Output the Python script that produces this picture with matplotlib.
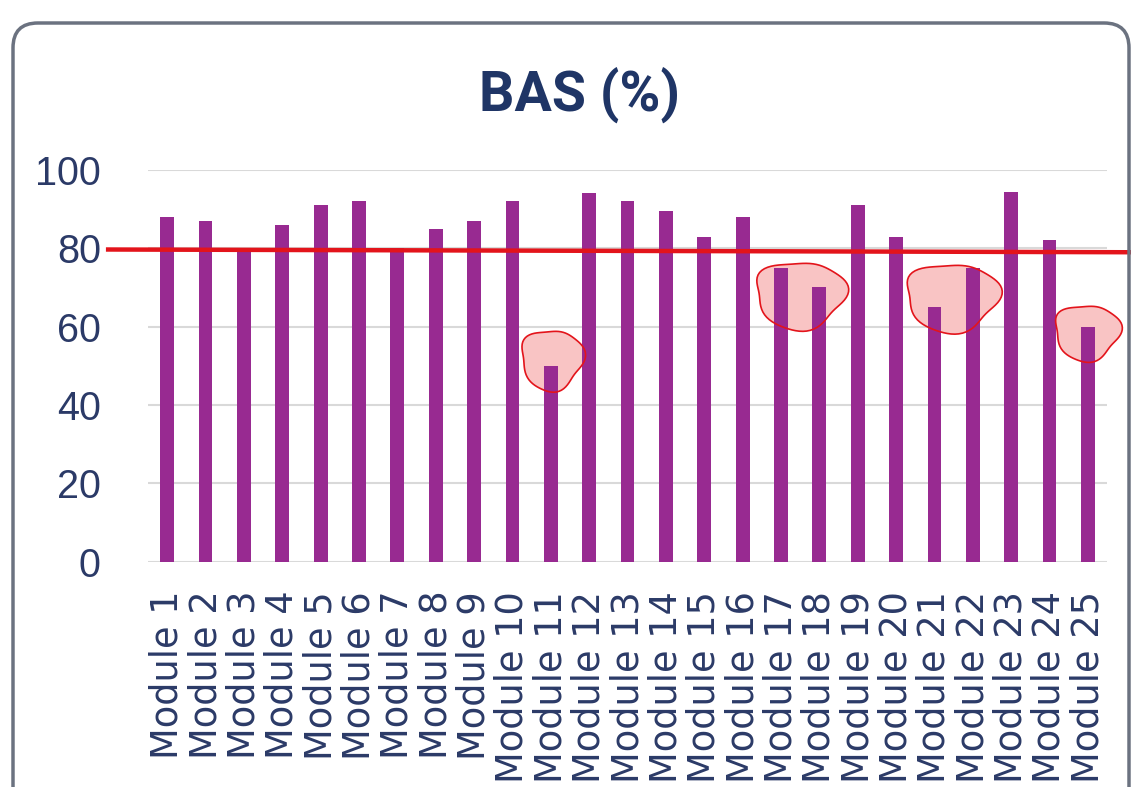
import numpy as np
import matplotlib
matplotlib.use("Agg")
import matplotlib.pyplot as plt
from matplotlib.patches import FancyBboxPatch, Polygon

# data
modules = [f"Module {i}" for i in range(1, 26)]
bas = [88, 87, 80, 86, 91, 92, 80, 85, 87, 92, 50, 94,
       92, 89.5, 83, 88, 75, 70, 91, 83, 65, 75, 94.5, 82, 60]
target_left, target_right = 79.7, 79.0

# hand-drawn highlight blobs: (center x index, center y value, half width, half height)
blob_x = [10.03, 16.5, 20.46, 23.98]
blob_y = [52.3, 68.9, 68.3, 59.2]
blob_w = [0.81, 1.17, 1.21, 0.85]
blob_h = [7.7, 8.6, 8.7, 7.1]

BAR = '#982A91'
NAVY = '#2B3A67'
TITLE = '#1F3566'
GRID = '#D9D9D9'
RED = '#E3141B'

fig = plt.figure(figsize=(11.31, 7.87), dpi=100)
ax = fig.add_axes([0.1309, 0.2863, 0.8479, 0.4977])

x = np.arange(len(modules))
ax.bar(x, bas, width=0.36, color=BAR, zorder=2)

ax.set_xlim(-0.5, len(modules) - 0.5)
ax.set_ylim(0, 100)
ax.set_yticks(range(0, 101, 20))
ax.yaxis.grid(True, color=GRID, linewidth=1.5, zorder=0)
ax.set_axisbelow(True)
for s in ax.spines.values():
    s.set_visible(False)

ax.set_xticks(x)
ax.set_xticklabels(modules, rotation=90, fontsize=26.5, color=NAVY,
                   family=['DejaVu Sans'])
ax.tick_params(axis='x', length=0, pad=21)
ax.tick_params(axis='y', length=0, pad=34, labelsize=28.5, labelcolor=NAVY)
for lab in ax.get_yticklabels():
    lab.set_family(['Liberation Sans', 'DejaVu Sans'])

# highlight blobs (wobbly ellipses): fill under the bars, outline on top
t = np.linspace(0, 2 * np.pi, 80)
for cx, cy, hw, hh in zip(blob_x, blob_y, blob_w, blob_h):
    r = 1 + 0.06 * np.sin(3 * t + 0.7) + 0.04 * np.cos(5 * t)
    px = cx + hw * r * np.cos(t)
    py = cy + hh * r * np.sin(t) * (1 - 0.12 * np.sin(t))
    pts = np.column_stack([px, py])
    ax.add_patch(Polygon(pts, closed=True, facecolor='#F9C4C4',
                         edgecolor='none', zorder=1.5, clip_on=False))
    ax.add_patch(Polygon(pts, closed=True, facecolor='none',
                         edgecolor=RED, linewidth=1.2, zorder=4, clip_on=False))

# red target line, drawn past the plot edges
ax.plot([-1.54, 25.13], [target_left, target_right], color=RED,
        linewidth=3.2, clip_on=False, zorder=5)

fig.text(0.5128, 0.879, 'BAS (%)', ha='center', va='center', fontsize=40,
         fontweight='bold', color=TITLE, family=['Roboto', 'DejaVu Sans'])

# rounded chart frame
frame = FancyBboxPatch((13 / 1131, -0.05), (1129 - 13) / 1131, 1.05 - 23 / 787,
                       boxstyle='round,pad=0,rounding_size=0.022',
                       mutation_aspect=1131 / 787,
                       transform=fig.transFigure, facecolor='none',
                       edgecolor='#6B7280', linewidth=2.5, zorder=0)
fig.patches.append(frame)

fig.savefig('out.png', dpi=100, facecolor='white')
